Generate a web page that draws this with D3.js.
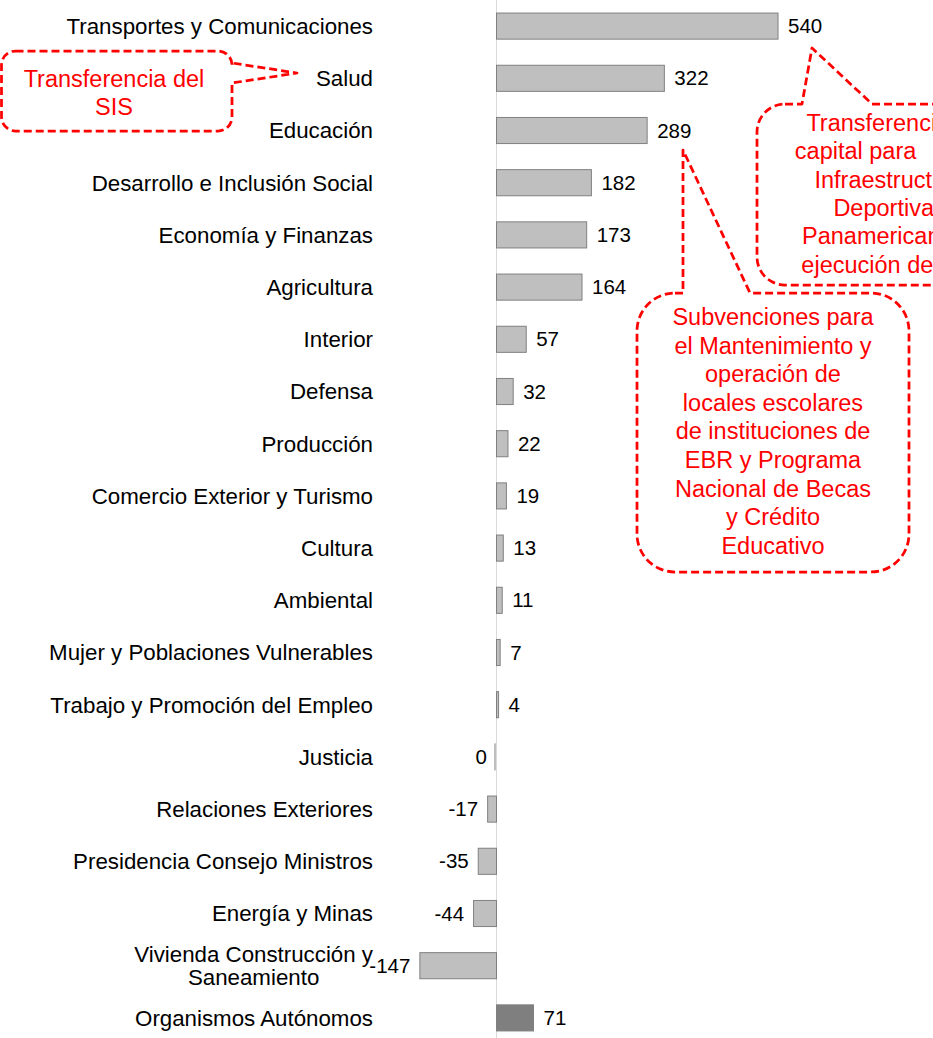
<!DOCTYPE html>
<html>
<head>
<meta charset="utf-8">
<script src="https://cdn.jsdelivr.net/npm/d3@7"></script>
<style>
  body { margin: 0; background: #fff; }
  svg { display: block; font-family: "Liberation Sans", Arial, sans-serif; }
</style>
</head>
<body>
<svg></svg>
<script>
var width = 933;
var height = 1038;

// data
var categories = ["Transportes y Comunicaciones", "Salud", "Educación",
  "Desarrollo e Inclusión Social", "Economía y Finanzas", "Agricultura",
  "Interior", "Defensa", "Producción", "Comercio Exterior y Turismo",
  "Cultura", "Ambiental", "Mujer y Poblaciones Vulnerables",
  "Trabajo y Promoción del Empleo", "Justicia", "Relaciones Exteriores",
  "Presidencia Consejo Ministros", "Energía y Minas",
  "Vivienda Construcción y\nSaneamiento", "Organismos Autónomos"];
var values = [540, 322, 289, 182, 173, 164, 57, 32, 22, 19, 13, 11, 7, 4, 0, -17, -35, -44, -147, 71];
var darkCategories = ["Organismos Autónomos"];

// callout texts
var noteSIS = ["Transferencia del", "SIS"];
var noteTransportes = ["Transferencias de", "capital para         los", "Infraestructura   ",
  "Deportiva de", "Panamericanos en", "ejecución de obras"];
var noteEducacion = ["Subvenciones para", "el Mantenimiento y", "operación de",
  "locales escolares", "de instituciones de", "EBR y Programa",
  "Nacional de Becas", "y Crédito", "Educativo"];

var rows = categories.map((c, i) => ({cat: c, value: values[i]}));

var svg = d3.select("svg")
    .attr("width", width)
    .attr("height", height);

//x-scale: zero line sits at 496.5, about 0.5213 px per unit
var zeroX = 496.5, pxPerUnit = 0.5213;
var xScale = d3.scaleLinear()
    .domain([-200, 600])
    .range([zeroX - 200 * pxPerUnit, zeroX + 600 * pxPerUnit]);
//y band scale, one row every ~52 px
var yScale = d3.scaleBand()
    .domain(categories)
    .range([0, 1044])
    .paddingInner(0.5)
    .paddingOuter(0.25);

//vertical zero line
svg.append("line")
    .attr("x1", xScale(0)).attr("x2", xScale(0))
    .attr("y1", 0).attr("y2", height)
    .attr("stroke", "#d9d9d9")
    .attr("stroke-width", 1);

//bars
var bars = svg.selectAll(".bar")
    .data(rows)
    .enter()
    .append("g")
      .classed("bar", true);

bars.append("rect")
    .attr("x", d => Math.min(xScale(0), xScale(d.value)) - (d.value === 0 ? 1.5 : 0))
    .attr("y", d => yScale(d.cat))
    .attr("width", d => Math.max(Math.abs(xScale(d.value) - xScale(0)), 0.01))
    .attr("height", yScale.bandwidth())
    .attr("fill", d => darkCategories.includes(d.cat) ? "#7f7f7f" : "#bfbfbf")
    .attr("stroke", "#808080")
    .attr("stroke-width", 1);

//value labels
bars.append("text")
    .text(d => d.value)
    .attr("x", d => d.value > 0 ? xScale(d.value) + 10 : xScale(d.value) - 9.5)
    .attr("y", d => yScale(d.cat) + yScale.bandwidth() / 2)
    .attr("dy", "0.35em")
    .attr("text-anchor", d => d.value > 0 ? "start" : "end")
    .style("font-size", "20.5px")
    .attr("fill", "#000");

//category labels, right aligned at x=373 (multi-line ones centred as a block)
var labelRight = 373;
var catLabels = svg.selectAll(".cat")
    .data(rows)
    .enter()
    .append("text")
      .classed("cat", true)
      .style("font-size", "22.3px")
      .attr("fill", "#000");

catLabels.each(function(d) {
  var lines = d.cat.split("\n");
  var t = d3.select(this);
  var cy = yScale(d.cat) + yScale.bandwidth() / 2;
  var lh = 23;
  lines.forEach((ln, i) => {
    t.append("tspan")
      .text(ln)
      .attr("y", cy + (i - (lines.length - 1) / 2) * lh)
      .attr("dy", "0.35em");
  });
  if (lines.length === 1) {
    t.attr("text-anchor", "end").selectAll("tspan").attr("x", labelRight);
  } else {
    var maxW = d3.max(t.selectAll("tspan").nodes(), n => n.getComputedTextLength());
    t.attr("text-anchor", "middle").selectAll("tspan").attr("x", labelRight - maxW / 2);
  }
});

//speech-bubble path: rounded box with a wedge on one side
function bubble(x0, y0, x1, y1, r, side, a, b, tip) {
  var p = d3.path();
  p.moveTo(x0 + r, y0);
  if (side === "top") { p.lineTo(a, y0); p.lineTo(tip[0], tip[1]); p.lineTo(b, y0); }
  p.lineTo(x1 - r, y0);
  p.arcTo(x1, y0, x1, y0 + r, r);
  if (side === "right") { p.lineTo(x1, a); p.lineTo(tip[0], tip[1]); p.lineTo(x1, b); }
  p.lineTo(x1, y1 - r);
  p.arcTo(x1, y1, x1 - r, y1, r);
  p.lineTo(x0 + r, y1);
  p.arcTo(x0, y1, x0, y1 - r, r);
  p.lineTo(x0, y0 + r);
  p.arcTo(x0, y0, x0 + r, y0, r);
  p.closePath();
  return p.toString();
}

function callout(box, lines, cx, firstBase, lineStep) {
  var g = svg.append("g");
  g.append("path")
    .attr("d", bubble.apply(null, box))
    .attr("fill", "#fff")
    .attr("stroke", "#ff0000")
    .attr("stroke-width", 2.75)
    .attr("stroke-dasharray", "8,4")
    .attr("stroke-linejoin", "round");
  g.selectAll("text")
    .data(lines)
    .enter()
    .append("text")
      .text(d => d)
      .attr("x", cx)
      .attr("y", (d, i) => firstBase + i * lineStep)
      .attr("text-anchor", "middle")
      .style("font-size", "23.5px")
      .style("white-space", "pre")
      .attr("fill", "#ff0000");
}

callout([1.5, 51, 232, 131, 14, "right", 63, 83, [297, 73]], noteSIS, 114, 86.5, 28.4);
callout([757, 104, 1045, 285, 28, "top", 802, 872, [812, 48]], noteTransportes, 900, 130.7, 28.4);
callout([637, 293, 909, 572, 38, "top", 683, 750, [683, 150]], noteEducacion, 773, 325, 28.6);
</script>
</body>
</html>
